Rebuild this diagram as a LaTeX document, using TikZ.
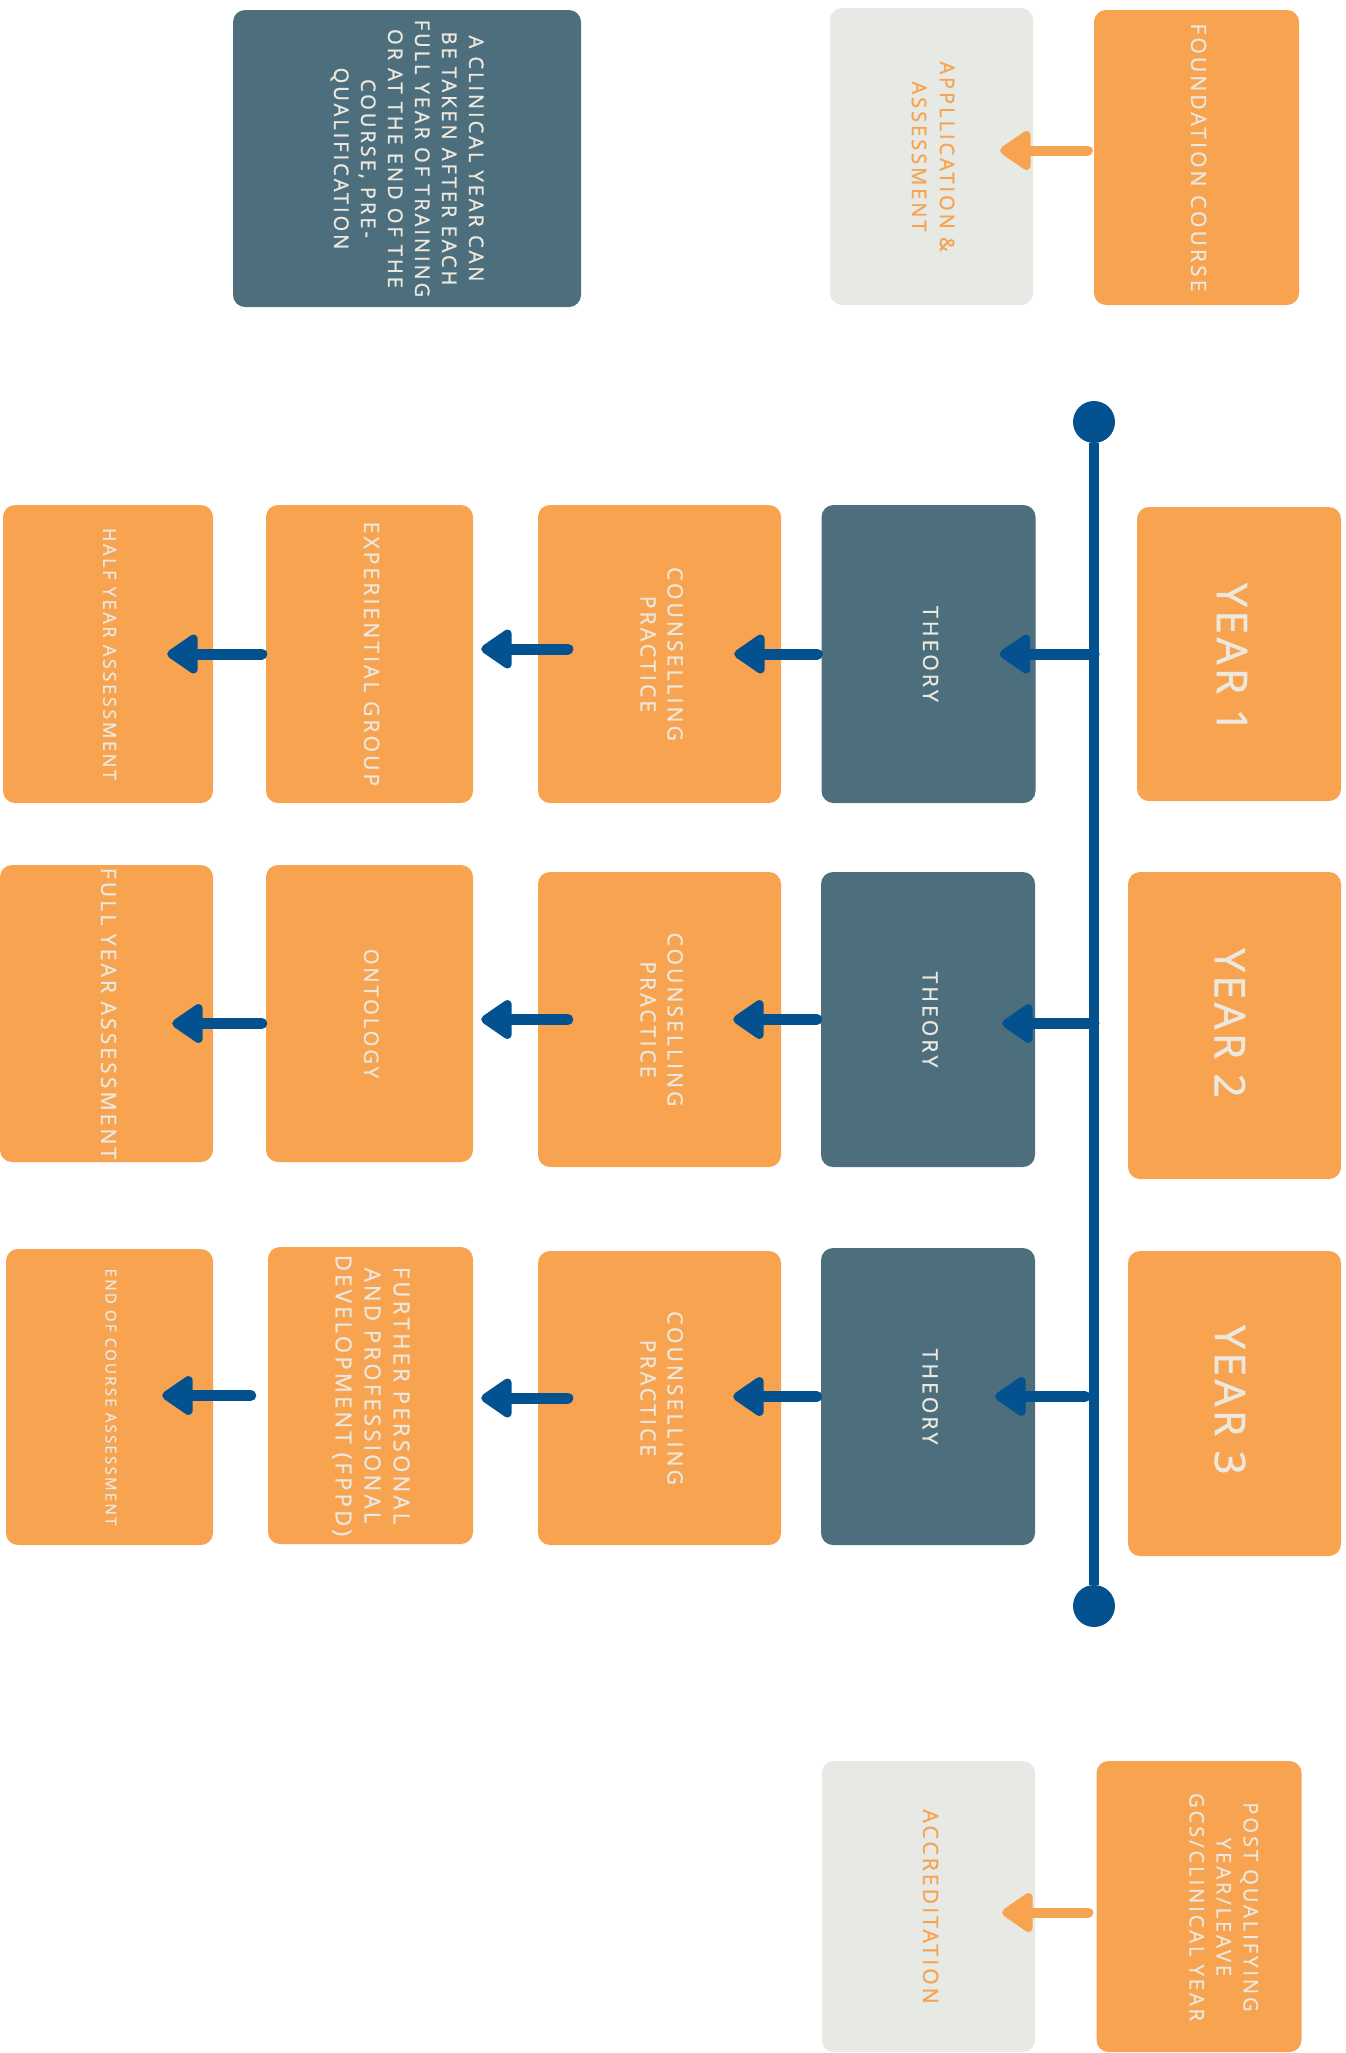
\documentclass[tikz,border=0pt]{standalone}
\usepackage{fontspec}
\usepackage{graphicx}
\usetikzlibrary{arrows.meta,calc}
\setmainfont{Open Sans}
\newfontfamily\labelfont{Open Sans}[LetterSpace=15, FakeBold=1.2]
\newfontfamily\yearfont{Open Sans}[LetterSpace=9, FakeBold=1.6]
\definecolor{boxorange}{HTML}{F7A350}
\definecolor{boxteal}{HTML}{4D6F7D}
\definecolor{boxgrey}{HTML}{E7E9E4}
\definecolor{lineblue}{HTML}{03518F}
\definecolor{paletext}{HTML}{ECE8DE}
% text turned to read downwards
\newcommand{\vlabel}[3]{\rotatebox{-90}{\labelfont\fontsize{#1}{#2}\selectfont\begin{tabular}{@{}c@{}}#3\end{tabular}}}
\newcommand{\yearlabel}[1]{\rotatebox{-90}{\yearfont\fontsize{42}{50}\selectfont #1}}

\begin{document}
\begin{tikzpicture}[x=1pt,y=-1pt,
	box/.style={rounded corners=12pt, inner sep=0pt, text=paletext},
	boxsize/.style 2 args={minimum width=#1pt, minimum height=#2pt},
	orangebox/.style={box, fill=boxorange},
	tealbox/.style={box, fill=boxteal},
	greybox/.style={box, fill=boxgrey, text=boxorange},
	dot/.style={circle, fill=lineblue, minimum size=42pt, inner sep=0pt},
	barrow/.style={line width=11pt, line cap=round, draw=lineblue, -{Triangle[length=34pt,width=44pt,round]}},
	oarrow/.style={barrow, line width=10pt, draw=boxorange}]
	\useasboundingbox (0,0) rectangle (1345,2053);

	% top row
	\node[tealbox, boxsize={348}{297}] (note) at (407,158.5) {\vlabel{20}{27}{A CLINICAL YEAR CAN\\BE TAKEN AFTER EACH\\FULL YEAR OF TRAINING\\OR AT THE END OF THE\\COURSE, PRE-\\QUALIFICATION}};
	\node[greybox, boxsize={203}{297}] (appl) at (931.5,156.5) {\vlabel{20}{28}{APPLLICATION \&\\ASSESSMENT}};
	\node[orangebox, boxsize={205}{295}] (found) at (1196.5,157.5) {\vlabel{21}{27}{FOUNDATION COURSE}};

	% timeline
	\node[dot] (tltop) at (1094,422) {};
	\node[dot] (tlbot) at (1094,1606) {};
	\draw[line width=10pt, lineblue] (tltop) -- (tlbot);

	% year 1
	\node[orangebox, boxsize={204}{294}] (year1) at (1239,654) {};
	\node[text=paletext] (year1text) at (1232,658) {\yearlabel{YEAR 1}};
	\node[tealbox, boxsize={214}{298}] (theory1) at (928.5,654) {\vlabel{21}{27}{THEORY}};
	\node[orangebox, boxsize={243}{298}] (couns1) at (659.5,654) {\vlabel{21}{27}{COUNSELLING\\PRACTICE}};
	\node[orangebox, boxsize={207}{298}] (exp1) at (369.5,654) {\vlabel{21}{27}{EXPERIENTIAL GROUP}};
	\node[orangebox, boxsize={210}{298}] (half1) at (108,654) {\vlabel{18}{24}{HALF YEAR ASSESSMENT}};

	% year 2
	\node[orangebox, boxsize={213}{307}] (year2) at (1234.5,1025.5) {};
	\node[text=paletext] (year2text) at (1230,1023) {\yearlabel{YEAR 2}};
	\node[tealbox, boxsize={214}{295}] (theory2) at (928,1019.5) {\vlabel{21}{27}{THEORY}};
	\node[orangebox, boxsize={243}{295}] (couns2) at (659.5,1019.5) {\vlabel{21}{27}{COUNSELLING\\PRACTICE}};
	\node[orangebox, boxsize={207}{297}] (ont2) at (369.5,1013.5) {\vlabel{20}{27}{ONTOLOGY}};
	\node[orangebox, boxsize={213}{297}] (full2) at (106.5,1013.5) {\vlabel{21}{27}{FULL YEAR ASSESSMENT}};

	% year 3
	\node[orangebox, boxsize={213}{305}] (year3) at (1234.5,1403.5) {};
	\node[text=paletext] (year3text) at (1230,1400) {\yearlabel{YEAR 3}};
	\node[tealbox, boxsize={214}{297}] (theory3) at (928,1396.5) {\vlabel{21}{27}{THEORY}};
	\node[orangebox, boxsize={243}{294}] (couns3) at (659.5,1398) {\vlabel{21}{27}{COUNSELLING\\PRACTICE}};
	\node[orangebox, boxsize={205}{297}] (fppd3) at (370.5,1395.5) {\vlabel{22}{29}{FURTHER PERSONAL\\AND PROFESSIONAL\\DEVELOPMENT (FPPD)}};
	\node[orangebox, boxsize={207}{296}] (end3) at (109.5,1397) {\vlabel{15}{20}{END OF COURSE ASSESSMENT}};

	% bottom row
	\node[greybox, boxsize={213}{291}] (accred) at (928.5,1906.5) {\vlabel{21}{27}{ACCREDITATION}};
	\node[orangebox, boxsize={205}{291}] (post) at (1199,1906.5) {};
	\node[text=paletext] (posttext) at (1222,1907) {\vlabel{20}{27}{POST QUALIFYING\\YEAR/LEAVE\\GCS/CLINICAL YEAR}};

	% arrows
	\draw[oarrow] ($(found.west)+(-6,-7)$) -- ($(found.west -| appl.east)+(-33,-7)$);
	\draw[oarrow] ($(post.west)+(-8,6)$) -- ($(post.west -| accred.east)+(-33,6)$);

	\draw[barrow] (tltop |- theory1.east) -- ($(theory1.east)+(-36,0)$);
	\draw[barrow] ($(theory1.west)+(-4,0)$) -- ($(theory1.west -| couns1.east)+(-47,0)$);
	\draw[barrow] ($(couns1.west)+(30,-5)$) -- ($(couns1.west -| exp1.east)+(8,-5)$);
	\draw[barrow] ($(exp1.west)+(-4,0)$) -- ($(exp1.west -| half1.east)+(-46,0)$);

	\draw[barrow] ($(tltop |- theory2.east)+(0,4)$) -- ($(theory2.east)+(-33,4)$);
	\draw[barrow] ($(theory2.west)+(-4,0)$) -- ($(theory2.west -| couns2.east)+(-48,0)$);
	\draw[barrow] ($(couns2.west)+(30,0)$) -- ($(couns2.west -| ont2.east)+(8,0)$);
	\draw[barrow] ($(ont2.west)+(-4,10)$) -- ($(ont2.west -| full2.east)+(-41,10)$);

	\draw[barrow] ($(tltop |- theory3.east)+(-9,0)$) -- ($(theory3.east)+(-40,0)$);
	\draw[barrow] ($(theory3.west)+(-4,0)$) -- ($(theory3.west -| couns3.east)+(-48,0)$);
	\draw[barrow] ($(couns3.west)+(30,0)$) -- ($(couns3.west -| fppd3.east)+(8,0)$);
	\draw[barrow] ($(fppd3.west)+(-17,0)$) -- ($(fppd3.west -| end3.east)+(-51,0)$);
\end{tikzpicture}
\end{document}
